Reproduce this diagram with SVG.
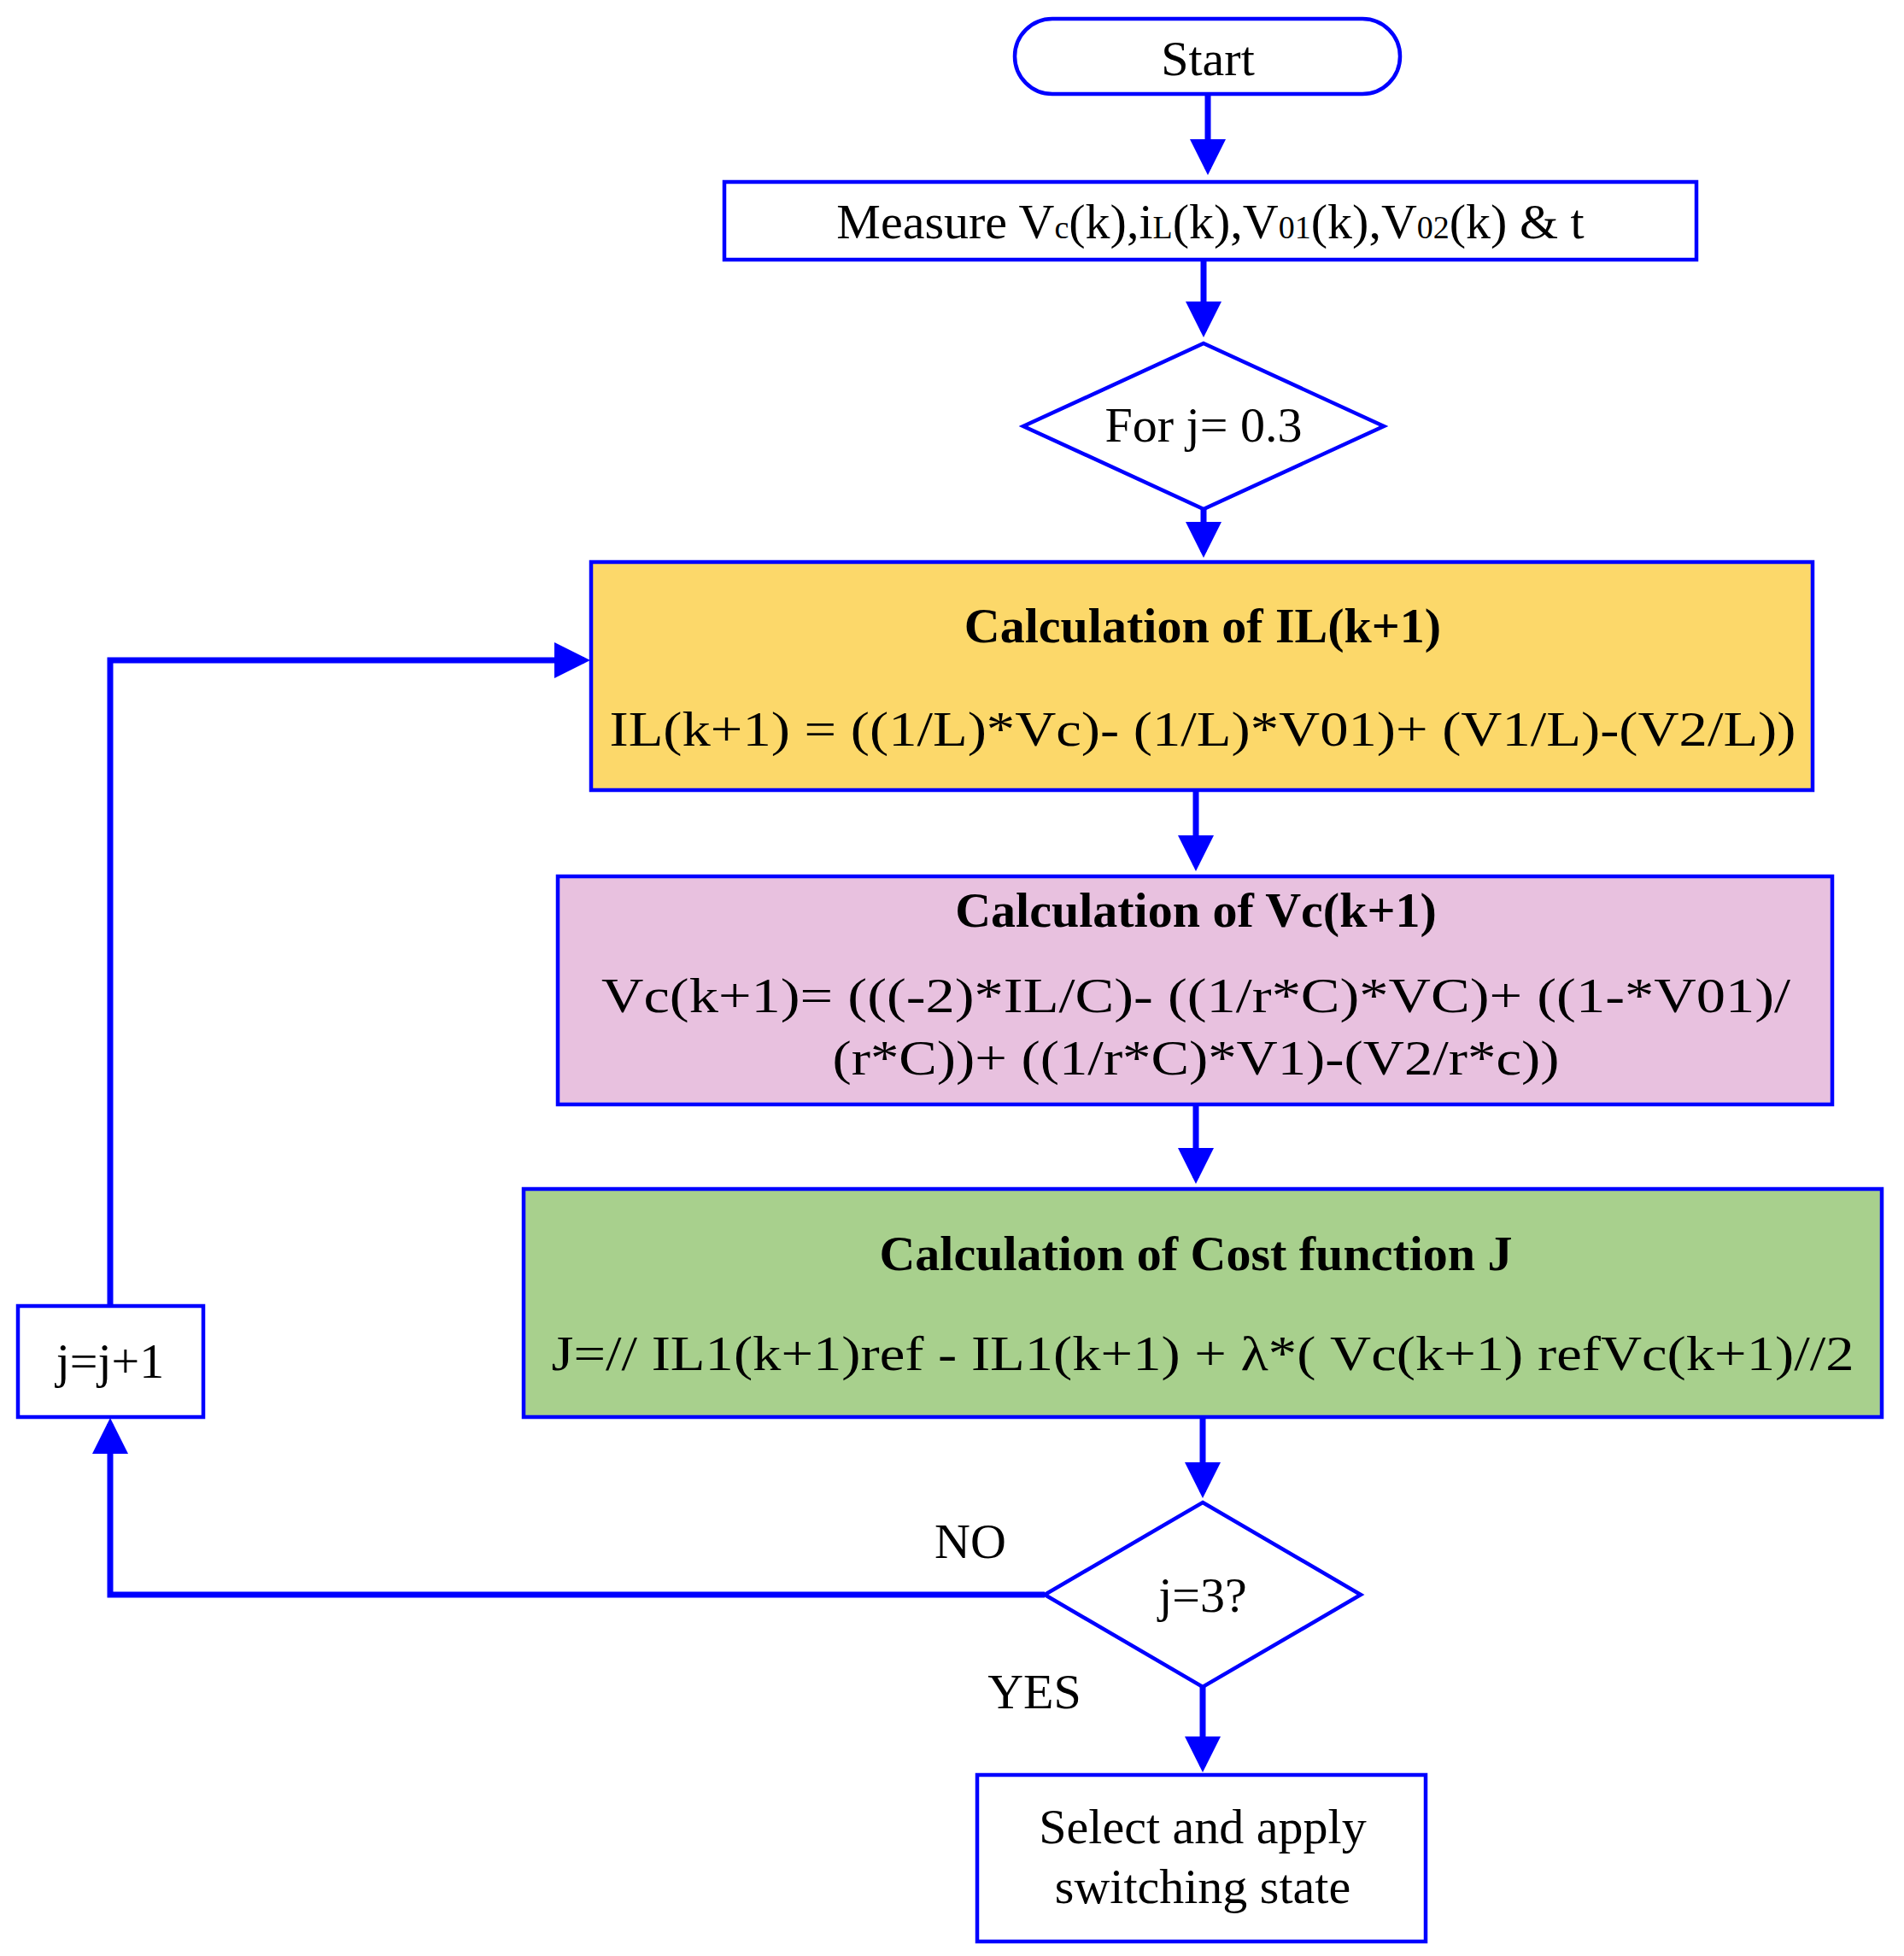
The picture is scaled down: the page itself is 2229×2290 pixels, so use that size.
<svg xmlns="http://www.w3.org/2000/svg" width="2229" height="2290" viewBox="0 0 2229 2290">
<style>
.n{stroke:#0000FF;stroke-width:4.5}
.t{font-family:"Liberation Serif",serif;font-size:58px;fill:#000;text-anchor:middle}
.b{font-weight:bold}
.c{fill:none;stroke:#0000FF;stroke-width:7}
</style>
<defs><marker id="a" markerWidth="6" markerHeight="6" refX="5" refY="3" orient="auto" markerUnits="strokeWidth"><path d="M0,0L6,3L0,6z" fill="#0000FF"/></marker></defs>
<rect width="2229" height="2290" fill="#fff"/>
<g id="connectors">
<path class="c" d="M1414,110V198" marker-end="url(#a)"/>
<path class="c" d="M1409,304V388" marker-end="url(#a)"/>
<path class="c" d="M1409,596V646" marker-end="url(#a)"/>
<path class="c" d="M1400,925V1013" marker-end="url(#a)"/>
<path class="c" d="M1400,1293V1379" marker-end="url(#a)"/>
<path class="c" d="M1408,1659V1747" marker-end="url(#a)"/>
<path class="c" d="M1408,1975V2068" marker-end="url(#a)"/>
<path class="c" d="M129,1529V773H684" marker-end="url(#a)"/>
<path class="c" d="M1223,1867H129V1667" marker-end="url(#a)"/>
</g>
<g id="start"><rect class="n" x="1188" y="22" width="451" height="88" rx="44" fill="#fff"/><text class="t" x="1414" y="88">Start</text></g>
<g id="measure"><rect class="n" x="848" y="213" width="1138" height="91" fill="#fff"/><text class="t" x="1417" y="279">Measure V<tspan font-size="38">c</tspan>(k),i<tspan font-size="38">L</tspan>(k),V<tspan font-size="38">01</tspan>(k),V<tspan font-size="38">02</tspan>(k) &amp; t</text></g>
<g id="forj"><path class="n" fill="#fff" d="M1409,402L1620,499L1409,596L1198,499Z"/><text class="t" x="1409" y="517">For j= 0.3</text></g>
<g id="il"><rect class="n" x="692" y="658" width="1430" height="267" fill="#FCD86A"/><text class="t b" x="1408" y="752">Calculation of IL(k+1)</text><text class="t" x="1408" y="873" textLength="1389" lengthAdjust="spacingAndGlyphs">IL(k+1) = ((1/L)*Vc)- (1/L)*V01)+ (V1/L)-(V2/L))</text></g>
<g id="vc"><rect class="n" x="653" y="1026" width="1492" height="267" fill="#E8C1DF"/><text class="t b" x="1400" y="1085">Calculation of Vc(k+1)</text><text class="t" x="1400" y="1185" textLength="1392" lengthAdjust="spacingAndGlyphs">Vc(k+1)= (((-2)*IL/C)- ((1/r*C)*VC)+ ((1-*V01)/</text><text class="t" x="1400" y="1258" textLength="851" lengthAdjust="spacingAndGlyphs">(r*C))+ ((1/r*C)*V1)-(V2/r*c))</text></g>
<g id="cost"><rect class="n" x="613" y="1392" width="1590" height="267" fill="#A8D08D"/><text class="t b" x="1400" y="1487">Calculation of Cost function J</text><text class="t" x="1408" y="1604" textLength="1525" lengthAdjust="spacingAndGlyphs">J=// IL1(k+1)ref - IL1(k+1) + λ*( Vc(k+1) refVc(k+1)//2</text></g>
<g id="j3"><path class="n" fill="#fff" d="M1408,1759L1593,1867L1408,1975L1223,1867Z"/><text class="t" x="1408" y="1887">j=3?</text></g>
<g id="select"><rect class="n" x="1144" y="2078" width="525" height="195" fill="#fff"/><text class="t" x="1408" y="2158">Select and apply</text><text class="t" x="1408" y="2228">switching state</text></g>
<g id="jinc"><rect class="n" x="21" y="1529" width="217" height="130" fill="#fff"/><text class="t" x="129" y="1613">j=j+1</text></g>
<text class="t" x="1136" y="1824">NO</text>
<text class="t" x="1211" y="2000">YES</text>
</svg>
